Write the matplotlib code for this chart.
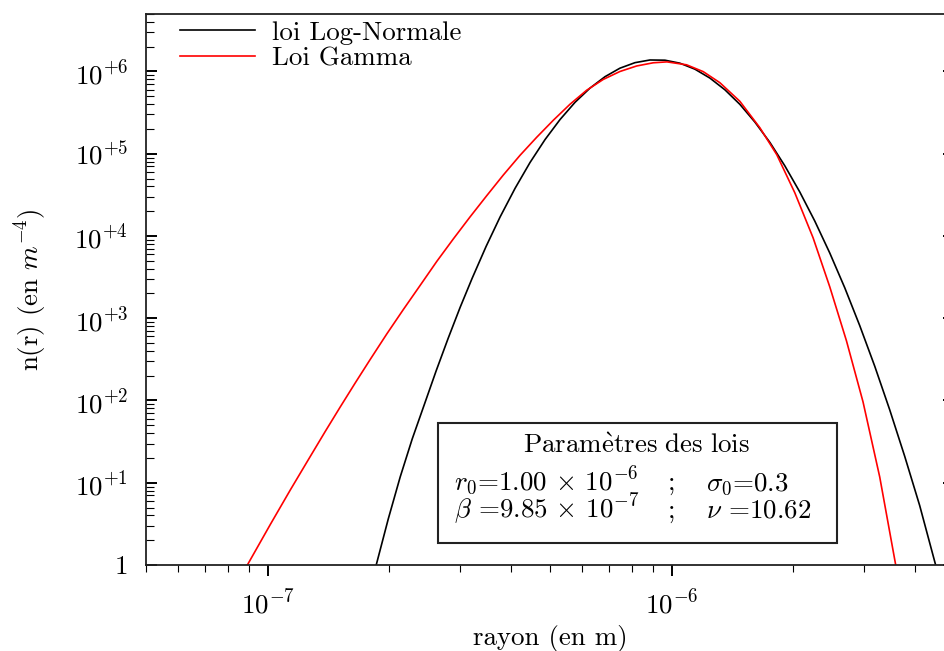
import matplotlib
matplotlib.use("Agg")
import matplotlib.pyplot as plt
from matplotlib.ticker import LogLocator, FuncFormatter, NullFormatter
from matplotlib.patches import Rectangle
import numpy as np

# ---- data ----
r_lognorm = [1.857e-7, 1.989e-7, 2.129e-7, 2.280e-7, 2.441e-7, 2.613e-7, 2.798e-7,
             2.996e-7, 3.208e-7, 3.474e-7, 3.762e-7, 4.098e-7, 4.463e-7, 4.861e-7,
             5.295e-7, 5.767e-7, 6.281e-7, 6.841e-7, 7.449e-7, 8.114e-7, 8.838e-7,
             9.626e-7, 1.048e-6, 1.142e-6, 1.244e-6, 1.355e-6, 1.476e-6, 1.607e-6,
             1.751e-6, 1.906e-6, 2.076e-6, 2.261e-6, 2.463e-6, 2.683e-6, 2.922e-6,
             3.183e-6, 3.466e-6, 3.775e-6, 4.112e-6, 4.503e-6]
n_lognorm = [1.0, 3.63, 11.77, 34.1, 88.4, 229.2, 569.5,
             1357, 3058, 7473, 1.703e4, 3.804e4, 7.84e4, 1.488e5,
             2.607e5, 4.221e5, 6.283e5, 8.644e5, 1.097e6, 1.280e6, 1.380e6,
             1.372e6, 1.262e6, 1.067e6, 8.312e5, 5.990e5, 3.979e5, 2.430e5,
             1.373e5, 7.145e4, 3.430e4, 1.522e4, 6213, 2343, 812.8,
             260.7, 77.1, 21.0, 5.28, 1.0]

r_gamma = [8.91e-8, 1.0155e-7, 1.138e-7, 1.2516e-7, 1.389e-7, 1.513e-7, 1.648e-7,
           1.795e-7, 1.973e-7, 2.169e-7, 2.386e-7, 2.6235e-7, 2.8835e-7, 3.172e-7,
           3.488e-7, 3.833e-7, 4.2165e-7, 4.636e-7, 5.096e-7, 5.605e-7, 6.164e-7,
           6.775e-7, 7.449e-7, 8.193e-7, 9.005e-7, 9.736e-7, 1.089e-6, 1.197e-6,
           1.3166e-6, 1.4755e-6, 1.6535e-6, 1.8213e-6, 2.018e-6, 2.2396e-6, 2.463e-6,
           2.709e-6, 2.977e-6, 3.2743e-6, 3.5866e-6]
n_gamma = [1.0, 3.11, 8.17, 17.91, 42.1, 83.6, 163.8,
           316.2, 646.1, 1283, 2513, 4923, 9245, 1.713e4,
           3.101e4, 5.522e4, 9.59e4, 1.588e5, 2.556e5, 4.002e5, 5.923e5,
           8.014e5, 1.000e6, 1.167e6, 1.276e6, 1.309e6, 1.206e6, 9.97e5,
           7.307e5, 4.341e5, 2.072e5, 9.72e4, 3.354e4, 9508, 2410,
           531.1, 96.2, 11.76, 1.0]

legend_labels = ["loi Log-Normale", "Loi Gamma"]
box_title = r"$\mathrm{Param\grave{e}tres\ des\ lois}$"
box_row1 = [r"$r_0$=1.00 $\times$ 10$^{-6}$", ";", r"$\sigma_0$=0.3"]
box_row2 = [r"$\beta$ =9.85 $\times$ 10$^{-7}$", ";", r"$\nu$ =10.62"]

plt.rcParams["font.family"] = ["cmr10", "DejaVu Serif"]
plt.rcParams["mathtext.fontset"] = "cm"
plt.rcParams["axes.unicode_minus"] = False
plt.rcParams["axes.formatter.use_mathtext"] = True

FS = 19.4
W, H = 945, 651
fig = plt.figure(figsize=(W / 100, H / 100), dpi=100)
L, R, T, B = 146, 954, 14, 565
ax = fig.add_axes([L / W, 1 - B / H, (R - L) / W, (B - T) / H])

ax.plot(r_lognorm, n_lognorm, color="black", lw=1.2, label=legend_labels[0])
ax.plot(r_gamma, n_gamma, color="#ff0000", lw=1.2, label=legend_labels[1])

ax.set_xscale("log")
ax.set_yscale("log")
ax.set_xlim(5e-8, 5e-6)
ax.set_ylim(1, 5e6)

for s in ax.spines.values():
    s.set_linewidth(1.3)
    s.set_color("#222222")

ax.yaxis.set_major_locator(LogLocator(base=10, numticks=20))
ax.yaxis.set_minor_locator(LogLocator(base=10, subs=np.arange(2, 10), numticks=20))
ax.xaxis.set_major_locator(LogLocator(base=10, numticks=20))
ax.xaxis.set_minor_locator(LogLocator(base=10, subs=np.arange(2, 10), numticks=20))


def yfmt(v, pos):
    e = int(round(np.log10(v)))
    if e == 0:
        return "1"
    return r"$10^{+%d}$" % e


def xfmt(v, pos):
    e = int(round(np.log10(v)))
    return r"$10^{%d}$" % e


ax.yaxis.set_major_formatter(FuncFormatter(yfmt))
ax.xaxis.set_major_formatter(FuncFormatter(xfmt))
ax.yaxis.set_minor_formatter(NullFormatter())
ax.xaxis.set_minor_formatter(NullFormatter())

ax.tick_params(axis="y", which="both", direction="in", left=True, right=True,
               labelsize=FS, pad=13)
ax.tick_params(axis="y", which="major", length=8, width=1.4)
ax.tick_params(axis="y", which="minor", length=6, width=0.8)
ax.tick_params(axis="x", which="both", direction="out", bottom=True, top=False,
               labelsize=FS, pad=9)
ax.tick_params(axis="x", which="major", length=8, width=1.4)
ax.tick_params(axis="x", which="minor", length=5.3, width=0.8)

ax.set_xlabel("rayon (en m)", fontsize=FS)
ax.xaxis.set_label_coords(0.5, (B - 625) / (B - T))
fig.text(31 / W, 1 - 290 / H, r"n(r) (en $m^{-4}$)", fontsize=FS, rotation=90,
         ha="center", va="center")

leg = ax.legend(loc="upper left", bbox_to_anchor=(180 / W, 1 - 21 / H),
                bbox_transform=fig.transFigure, frameon=False, fontsize=FS,
                handlelength=2.8, handletextpad=0.62, labelspacing=0.05,
                borderpad=0, borderaxespad=0)

# parameter box
fig.patches.append(Rectangle((438 / W, 1 - 543 / H), (837 - 438) / W, (543 - 423) / H,
                             transform=fig.transFigure, fill=True, facecolor="white",
                             edgecolor="#222222", lw=1.5, zorder=5))
fig.text(637 / W, 1 - 453 / H, box_title, fontsize=FS, ha="center", va="baseline", zorder=6)
for row, yb in ((box_row1, 490), (box_row2, 518)):
    fig.text(454 / W, 1 - yb / H, row[0], fontsize=FS, ha="left", va="baseline", zorder=6)
    fig.text(672 / W, 1 - yb / H, row[1], fontsize=FS, ha="center", va="baseline", zorder=6)
    fig.text(706 / W, 1 - yb / H, row[2], fontsize=FS, ha="left", va="baseline", zorder=6)

fig.savefig("out.png", dpi=100)
